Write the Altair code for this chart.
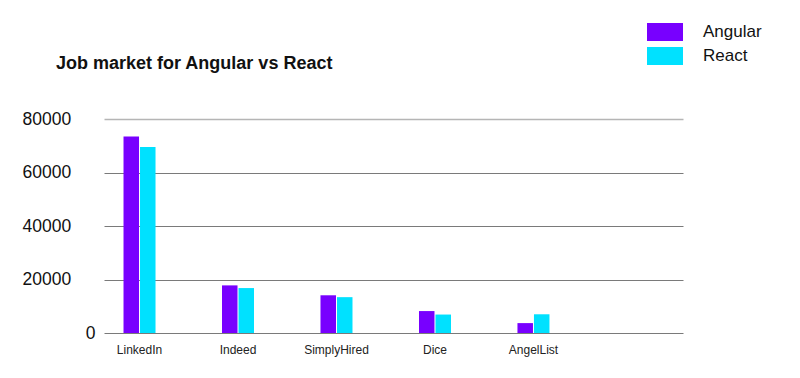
import altair as alt
import pandas as pd

sites = ["LinkedIn", "Indeed", "SimplyHired", "Dice", "AngelList"]
angular = [73500, 17800, 14100, 8200, 3700]
react = [69500, 16800, 13400, 6900, 7000]
frameworks = ["Angular", "React"]
y_ticks = [0, 20000, 40000, 60000, 80000]

rows = []
for s, a, r in zip(sites, angular, react):
    rows.append({"site": s, "framework": "Angular", "jobs": a})
    rows.append({"site": s, "framework": "React", "jobs": r})
df = pd.DataFrame(rows)

FONT = "Liberation Sans"

chart = alt.Chart(df).mark_bar().encode(
    x=alt.X("site:N", sort=sites, title=None,
            scale=alt.Scale(paddingInner=0.675, paddingOuter=0.777, align=0.1275),
            axis=alt.Axis(labelAngle=0, domain=False, ticks=False, labelFontSize=12,
                          labelPadding=11, labelColor="#222222", labelFont=FONT)),
    xOffset=alt.XOffset("framework:N", sort=frameworks,
                        scale=alt.Scale(paddingInner=0.06, paddingOuter=0)),
    y=alt.Y("jobs:Q", title=None,
            scale=alt.Scale(domain=[0, 80000], nice=False),
            axis=alt.Axis(values=y_ticks, format="d", domain=False, ticks=False,
                          labelFontSize=17.5, labelColor="#111111", labelFont=FONT,
                          labelAlign={"condition": {"test": "datum.value == 0", "value": "right"}, "value": "left"},
                          labelPadding={"condition": {"test": "datum.value == 0", "value": 9}, "value": 82},
                          gridColor={"condition": {"test": "datum.value == 80000", "value": "#b5b5b5"}, "value": "#7a7a7a"},
                          gridWidth={"condition": {"test": "datum.value == 80000", "value": 1.5}, "value": 1})),
    color=alt.Color("framework:N", sort=frameworks, title=None,
                    scale=alt.Scale(domain=frameworks, range=["#7800FF", "#00E1FF"]),
                    legend=alt.Legend(orient="none", legendX=543, legendY=-96, padding=0,
                                      symbolType="M-1,-1H3V1H-1Z", symbolSize=324,
                                      symbolStrokeWidth=0, symbolOpacity=1,
                                      labelFontSize=17, labelFont=FONT, labelColor="#111111",
                                      labelOffset=38, rowPadding=6)),
).properties(
    width=579, height=214,
    title=alt.Title("Job market for Angular vs React", anchor="start", fontSize=18,
                    font=FONT, fontWeight="bold", color="#111111", dx=-48, dy=64,
                    frame="group", baseline="alphabetic", offset=0),
    padding={"left": 104, "top": 119, "right": 117, "bottom": 45},
    autosize=alt.AutoSizeParams(type="none"),
).configure_view(stroke=None)

chart.save("out.html", embed_options={"renderer": "svg", "actions": False})
